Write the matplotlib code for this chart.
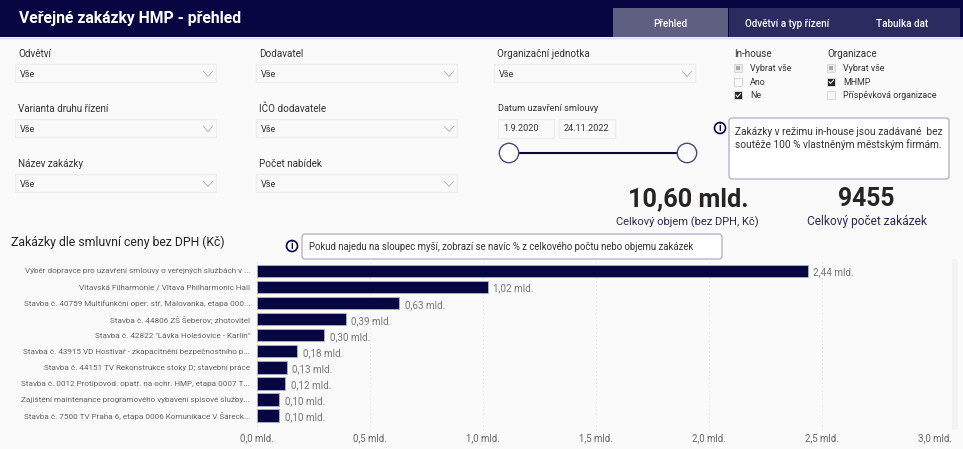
import matplotlib
matplotlib.use("Agg")
import matplotlib.pyplot as plt
from matplotlib.patches import Rectangle, FancyBboxPatch, Circle

plt.rcParams["font.family"] = ["Roboto", "DejaVu Sans"]

names = [
    "Výběr dopravce pro uzavření smlouvy o veřejných službách v ...",
    "Vltavská Filharmonie / Vltava Philharmonic Hall",
    "Stavba č. 40759 Multifunkční oper. stř. Malovanka, etapa 000...",
    "Stavba č. 44806 ZŠ Šeberov; zhotovitel",
    "Stavba č. 42822 \"Lávka Holešovice - Karlín\"",
    "Stavba č. 43915 VD Hostivař - zkapacitnění bezpečnostního p...",
    "Stavba č. 44151 TV Rekonstrukce stoky D; stavební práce",
    "Stavba č. 0012 Protipovod. opatř. na ochr. HMP, etapa 0007 T...",
    "Zajištění maintenance programového vybavení spisové služby...",
    "Stavba č. 7500 TV Praha 6, etapa 0006 Komunikace V Šáreck...",
]
values = [2.436, 1.02, 0.628, 0.392, 0.296, 0.176, 0.131, 0.124, 0.098, 0.096]
xticks = [0, 0.5, 1.0, 1.5, 2.0, 2.5, 3.0]

dropdowns = [
    ("Odvětví", 15, 53), ("Varianta druhu řízení", 15, 108), ("Název zakázky", 15, 163),
    ("Dodavatel", 256, 53), ("IČO dodavatele", 256, 108), ("Počet nabídek", 256, 163),
    ("Organizační jednotka", 494, 53),
]
inhouse = [("Vybrat vše", "part"), ("Ano", "off"), ("Ne", "on")]
organizace = [("Vybrat vše", "part"), ("MHMP", "on"), ("Příspěvková organizace", "off")]
tabs = [("Přehled", 613, 115, 670.5, "#5f5f82"), ("Odvětví a typ řízení", 729, 231, 787, "#2c2b5f"),
        ("Tabulka dat", 729, 231, 902.5, "#2c2b5f")]

NAVY = "#080642"
BG = "#fafafa"
W, H = 963, 449


def cz(v, dec):
    return f"{v:.{dec}f}".replace(".", ",") + " mld."


fig = plt.figure(figsize=(W / 100, H / 100), dpi=100, facecolor=BG)

# whole-figure layer in pixel coordinates for the report controls
ui = fig.add_axes([0, 0, 1, 1])
ui.set_xlim(0, W)
ui.set_ylim(H, 0)
ui.axis("off")


def txt(x, y, s, size=7, color="#333333", ha="left", **kw):
    ui.text(x, y + 0.8, s, fontsize=size, color=color, ha=ha, va="center", **kw)


def box(x, y, w, h, fc="#fafafa", ec="#eeeeee", lw=1, z=1):
    ui.add_patch(Rectangle((x, y), w, h, fc=fc, ec=ec, lw=lw, zorder=z))


def rbox(x, y, w, h, ec="#b4b4c8"):
    ui.add_patch(FancyBboxPatch((x + 2, y + 2), w - 4, h - 4, boxstyle="round,pad=2,rounding_size=3",
                                fc="white", ec=ec, lw=1, mutation_aspect=1))


def info(x, y):
    ui.add_patch(Circle((x, y), 5.5, fc="white", ec=NAVY, lw=1.2, zorder=3))
    ui.text(x, y + 0.3, "i", fontsize=7, color=NAVY, ha="center", va="center", weight="bold", zorder=4)


# header
box(0, 0, W, 37, fc=NAVY, ec="none")
txt(19, 18, "Veřejné zakázky HMP - přehled", size=11.3, color="white", weight="bold")
for label, x, w, cx, col in tabs:
    box(x, 8, w, 29, fc=col, ec="none", z=2)
for label, x, w, cx, col in tabs:
    txt(cx, 23, label, size=7.1, color="white", ha="center", weight="medium", zorder=3)
ui.plot([0, W], [37.5, 37.5], color="#d8d8e4", lw=1)

# dropdown filters
for label, x, y in dropdowns:
    txt(x + 3, y, label, size=7.1)
    box(x, y + 11, 201, 18)
    txt(x + 5, y + 21, "Vše", size=6.6)
    ax_, ay = x + 193, y + 21
    ui.plot([ax_ - 4.5, ax_, ax_ + 4.5], [ay - 2.5, ay + 2.5, ay - 2.5], color="#b5a8b5", lw=0.6)


# checkbox lists
def checks(x, title, rows):
    txt(x, 53, title, size=7.1)
    for i, (label, state) in enumerate(rows):
        y = 68 + i * 13.5
        fc = {"part": "#ececec", "off": "#fafafa", "on": "#252525"}[state]
        box(x, y - 4, 8, 8, fc=fc, ec="#d8d8d8", lw=0.7)
        if state == "part":
            box(x + 2, y - 2, 4, 4, fc="#a9a9a9", ec="none", z=2)
        if state == "on":
            ui.plot([x + 2, x + 3.5, x + 6.5], [y, y + 2, y - 1.5], color="white", lw=0.7, zorder=3)
        txt(x + 16, y, label, size=6.4)


checks(734, "In-house", inhouse)
checks(827, "Organizace", organizace)

# date slicer
txt(498, 108, "Datum uzavření smlouvy", size=6.6)
box(497.5, 118.5, 56, 19)
box(558.5, 118.5, 56, 19)
txt(503, 128, "1.9.2020", size=6.6)
txt(564, 128, "24.11.2022", size=6.6)
ui.plot([509, 687], [153, 153], color=NAVY, lw=1.5, zorder=2)
for cx in (509, 687):
    ui.add_patch(Circle((cx, 153), 9.7, fc="white", ec="#4b4a72", lw=1, zorder=3))

# notes
info(720, 128)
rbox(729, 118, 220, 61)
txt(735, 131, "Zakázky v režimu in-house jsou zadávané  bez", size=7.3)
txt(735, 144, "soutěže 100 % vlastněným městským firmám.", size=7.3)

# KPI cards
txt(688, 198, "10,60 mld.", size=18.2, color="#252423", ha="center", weight="bold")
txt(866, 198, "9455", size=17.8, color="#252423", ha="center", weight="bold")
txt(687, 221, "Celkový objem (bez DPH, Kč)", size=8.0, color="#2b2a55", ha="center")
txt(867, 221, "Celkový počet zakázek", size=8.55, color="#2b2a55", ha="center")

# chart heading
txt(11, 241, "Zakázky dle smluvní ceny bez DPH (Kč)", size=8.8, color="#252423")
info(292, 246)
rbox(302, 234, 420, 25)
txt(309, 246, "Pokud najedu na sloupec myší, zobrazí se navíc % z celkového počtu nebo objemu zakázek", size=6.95)

# scrollbar strip
box(952, 259, 6, 171, fc="#f3f3f3", ec="none")

# bar chart
ax = fig.add_axes([257 / W, 1 - 430 / H, (935 - 257) / W, (430 - 259) / H])
ax.patch.set_alpha(0)
ypos = list(range(len(names)))
ax.barh(ypos, values, height=0.77, color=NAVY, edgecolor="#b9b9cf", linewidth=0.5, zorder=3)
for y, v in zip(ypos, values):
    ax.text(v + 0.026, y + 0.1, cz(v, 2), fontsize=7.1, color="#777777", va="center", ha="left", zorder=4)
ax.set_xlim(0, 3)
ax.set_ylim(9.9, -0.747)
ax.set_xticks(xticks, [cz(t, 1) for t in xticks])
ax.set_yticks(ypos, names)
ax.tick_params(axis="both", length=0)
ax.tick_params(axis="y", labelsize=5.87, labelcolor="#666666", pad=5)
ax.tick_params(axis="x", labelsize=6.9, labelcolor="#666666", pad=2.5)
ax.grid(axis="x", color="#dcdcdc", lw=0.7, ls=(0, (1, 3)), zorder=0)
for s in ax.spines.values():
    s.set_visible(False)

fig.savefig("out.png", dpi=100, facecolor=BG)
